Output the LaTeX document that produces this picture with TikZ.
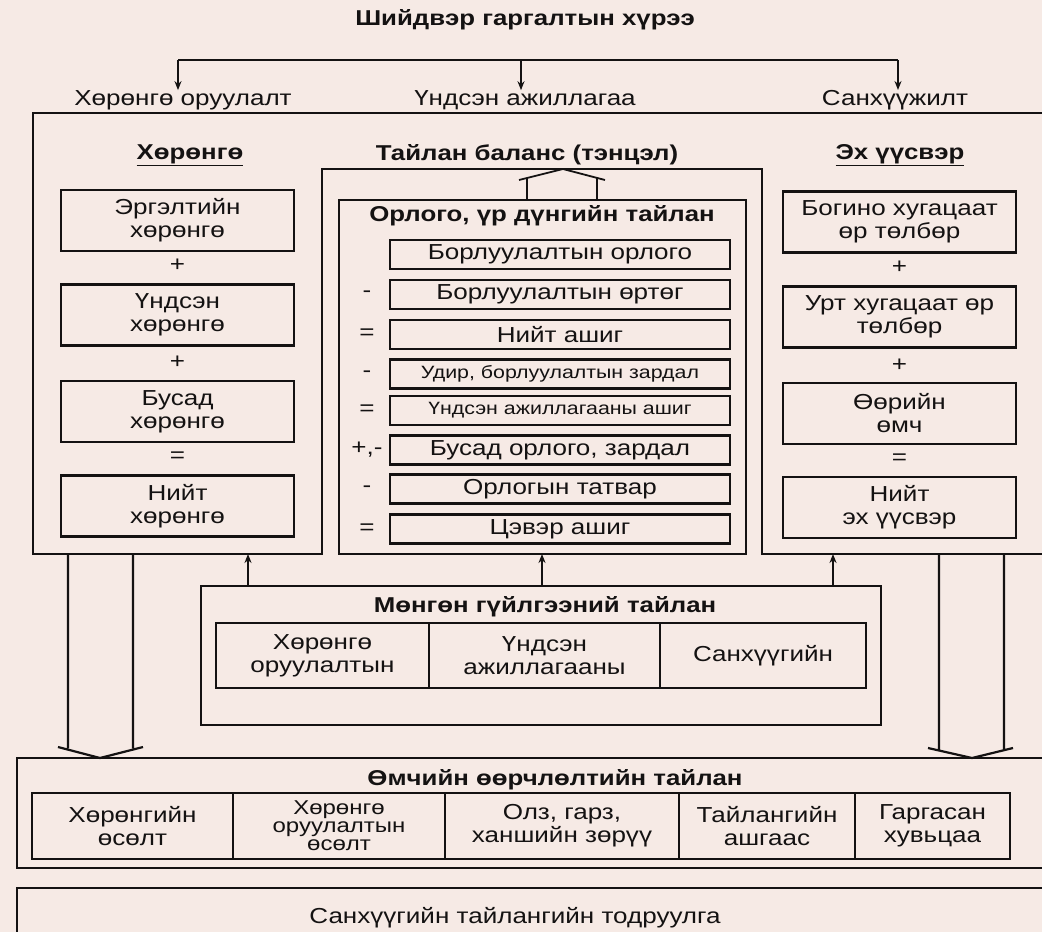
\documentclass[tikz,border=0pt]{standalone}
\usepackage{fontspec}
\setmainfont{Liberation Sans}[FakeStretch=1.2]
\usetikzlibrary{arrows.meta}
\definecolor{paper}{RGB}{246,234,229}
\definecolor{ink}{RGB}{20,18,18}
\newcommand\txt{\fontsize{21.7}{23}\selectfont}
\newcommand\txtsm{\fontsize{17.8}{19}\selectfont}
\newcommand\txtbf{\bfseries\fontsize{21.5}{24}\selectfont}
\tikzset{
  frame/.style={draw=ink, line width=2.2pt},
  cell/.style={draw=ink, line width=2.2pt, align=center, inner sep=0pt, font=\txt, text=ink},
  colbox/.style={cell, minimum width=233pt, minimum height=61pt},
  rowbox/.style={cell, minimum width=340pt, minimum height=29pt},
  lbl/.style={inner sep=0pt, font=\txt, text=ink, align=center},
  head/.style={inner sep=0pt, font=\txtbf, text=ink},
  sgn/.style={inner sep=0pt, font=\txt, text=ink},
  flow/.style={draw=ink, line width=1.8pt, -{Stealth[length=9pt,width=7pt]}},
}

\begin{document}
\begin{tikzpicture}[x=1pt,y=-1pt]
\useasboundingbox (0,0) rectangle (1042,932);
\fill[paper] (0,0) rectangle (1042,932);
%
\node[head] (title) at (525,20) {Шийдвэр гаргалтын хүрээ};
\node[lbl] (invTop) at (183,100) {Хөрөнгө оруулалт};
\node[lbl] (opTop) at (525,100) {Үндсэн ажиллагаа};
\node[lbl] (finTop) at (895,100) {Санхүүжилт};
\coordinate (busL) at (178,60);
\coordinate (busM) at (521,60);
\coordinate (busR) at (898,60);
\draw[frame] (busL) -- (busR);
\draw[flow] (busL) -- (busL |- invTop.north);
\draw[flow] (busM) -- (busM |- opTop.north);
\draw[flow] (busR) -- (busR |- finTop.north);
%
\draw[frame] (1042,113) -- (33,113) -- (33,554) -- (322,554) -- (322,169) -- (762,169) -- (762,554) -- (1042,554);
\node[head] (assetHd) at (190,155) {\underline{Хөрөнгө}};
\node[head] (balHd) at (527,155) {Тайлан баланс (тэнцэл)};
\node[head] (srcHd) at (900,155) {\underline{Эх үүсвэр}};
%
\node[colbox] (asset1) at (177.5,220.5) {Эргэлтийн\\хөрөнгө};
\node[colbox] (asset2) at (177.5,315) {Үндсэн\\хөрөнгө};
\node[colbox] (asset3) at (177.5,411.5) {Бусад\\хөрөнгө};
\node[colbox] (asset4) at (177.5,506) {Нийт\\хөрөнгө};
\node[sgn] at (177.5,265) {+};
\node[sgn] at (177.5,362) {+};
\node[sgn] at (177.5,457) {=};
%
\node[colbox] (src1) at (899.5,222) {Богино хугацаат\\өр төлбөр};
\node[colbox] (src2) at (899.5,317) {Урт хугацаат өр\\төлбөр};
\node[colbox] (src3) at (899.5,413.5) {Өөрийн\\өмч};
\node[colbox] (src4) at (899.5,507.5) {Нийт\\эх үүсвэр};
\node[sgn] at (899.5,267) {+};
\node[sgn] at (899.5,365) {+};
\node[sgn] at (899.5,459) {=};
%
\node[cell, minimum width=407pt, minimum height=354pt] (income) at (542.5,377) {};
\node[head] (incHd) at (542,216) {Орлого, үр дүнгийн тайлан};
\node[rowbox] (inc1) at (560,254.5) {Борлуулалтын орлого};
\node[rowbox] (inc2) at (560,294.5) {Борлуулалтын өртөг};
\node[rowbox] (inc3) at (560,334.5) {Нийт ашиг};
\node[rowbox, font=\txtsm] (inc4) at (560,374) {Удир, борлуулалтын зардал};
\node[rowbox, font=\txtsm] (inc5) at (560,410.5) {Үндсэн ажиллагааны ашиг};
\node[rowbox] (inc6) at (560,450) {Бусад орлого, зардал};
\node[rowbox] (inc7) at (560,489) {Орлогын татвар};
\node[rowbox] (inc8) at (560,529) {Цэвэр ашиг};
\node[sgn] at (367,294.5) {-};
\node[sgn] at (367,334.5) {=};
\node[sgn] at (367,374) {-};
\node[sgn] at (367,410.5) {=};
\node[sgn] at (367,450) {+,-};
\node[sgn] at (367,489) {-};
\node[sgn] at (367,529) {=};
%
\draw[frame, line width=1.8pt] (527,200) -- (527,178) (597,200) -- (597,178) (519,180) -- (563,169) -- (605,180);
\draw[frame] (68,554) -- (68,748) (133,554) -- (133,748) (58,747) -- (100,758) -- (143,747);
\draw[frame] (939,554) -- (939,750) (1004,554) -- (1004,750) (928,748) -- (972,758) -- (1013,748);
%
\node[cell, minimum width=680pt, minimum height=139pt] (cash) at (541,655.5) {};
\node[head] (cashHd) at (545,607) {Мөнгөн гүйлгээний тайлан};
\node[cell, minimum width=213pt, minimum height=65pt] (cash1) at (322.5,655.5) {Хөрөнгө\\оруулалтын};
\node[cell, minimum width=231pt, minimum height=65pt] (cash2) at (544.5,655.5) {Үндсэн\\ажиллагааны};
\node[cell, minimum width=206pt, minimum height=65pt] (cash3) at (763,655.5) {Санхүүгийн};
\coordinate (assetBase) at (248,554);
\coordinate (incBase) at (542,554);
\coordinate (srcBase) at (833,554);
\draw[flow] (assetBase |- cash.north) -- (assetBase);
\draw[flow] (incBase |- cash.north) -- (incBase);
\draw[flow] (srcBase |- cash.north) -- (srcBase);
%
\draw[frame] (1042,758) -- (17,758) -- (17,868) -- (1042,868);
\node[head] (eqHd) at (555,780) {Өмчийн өөрчлөлтийн тайлан};
\node[cell, minimum width=201pt, minimum height=66pt] (eq1) at (132.5,826) {Хөрөнгийн\\өсөлт};
\node[cell, minimum width=212pt, minimum height=66pt, font=\fontsize{20}{18}\selectfont] (eq2) at (339,826) {Хөрөнгө\\оруулалтын\\өсөлт};
\node[cell, minimum width=234pt, minimum height=66pt] (eq3) at (562,826) {Олз, гарз,\\ханшийн зөрүү};
\node[cell, minimum width=176pt, minimum height=66pt] (eq4) at (767,826) {Тайлангийн\\ашгаас};
\node[cell, minimum width=155pt, minimum height=66pt] (eq5) at (932.5,826) {Гаргасан\\хувьцаа};
%
\draw[frame] (1042,888) -- (17,888) -- (17,932);
\node[lbl] (notes) at (515,918) {Санхүүгийн тайлангийн тодруулга};
\end{tikzpicture}
\end{document}
